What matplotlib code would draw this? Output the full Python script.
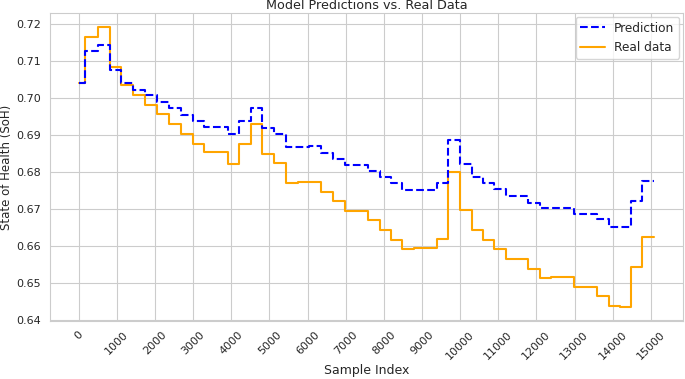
import numpy as np
import matplotlib
matplotlib.use("Agg")
import matplotlib.pyplot as plt
import seaborn as sns

# chunk boundaries (sample index)
edges = [0, 174, 496, 809, 1113, 1426, 1739, 2052, 2357, 2670,
         2990, 3294, 3596, 3908, 4210, 4512, 4815, 5118, 5429, 5740,
         6040, 6350, 6670, 6974, 7278, 7583, 7887, 8183, 8478, 8783,
         9087, 9383, 9690, 10000, 10304, 10600, 10896, 11200, 11496, 11791,
         12096, 12392, 12688, 12983, 13288, 13594, 13900, 14190, 14480, 14773,
         15087]

real = [0.7041, 0.7166, 0.7191, 0.7085, 0.7036, 0.7007, 0.6982, 0.6957, 0.6930, 0.6903,
        0.6877, 0.6853, 0.6853, 0.6822, 0.6877, 0.6931, 0.6849, 0.6824, 0.6770, 0.6774,
        0.6774, 0.6747, 0.6721, 0.6695, 0.6695, 0.6671, 0.6644, 0.6617, 0.6592, 0.6594,
        0.6594, 0.6620, 0.6801, 0.6698, 0.6644, 0.6617, 0.6593, 0.6566, 0.6565, 0.6539,
        0.6514, 0.6516, 0.6517, 0.6490, 0.6491, 0.6467, 0.6440, 0.6437, 0.6545, 0.6626]

pred = [0.7041, 0.7126, 0.7142, 0.7075, 0.7041, 0.7022, 0.7007, 0.6989, 0.6973, 0.6955,
        0.6937, 0.6922, 0.6922, 0.6903, 0.6937, 0.6972, 0.6919, 0.6904, 0.6869, 0.6869,
        0.6870, 0.6851, 0.6836, 0.6820, 0.6820, 0.6802, 0.6786, 0.6770, 0.6752, 0.6752,
        0.6752, 0.6771, 0.6888, 0.6822, 0.6788, 0.6770, 0.6754, 0.6736, 0.6736, 0.6718,
        0.6703, 0.6703, 0.6703, 0.6686, 0.6686, 0.6673, 0.6653, 0.6653, 0.6722, 0.6775]

xticks = list(range(0, 15001, 1000))

sns.set_style("whitegrid")
plt.rcParams['font.family'] = ['DejaVu Sans']

fig = plt.figure(figsize=(6.85, 3.79), dpi=100)
ax = fig.add_subplot(111)
fig.subplots_adjust(left=0.073, right=0.997, top=0.965, bottom=0.154)

x = np.array(edges)
ax.step(x, real + [real[-1]], where='post', color='orange', lw=1.5, label='Real data', zorder=2)
ax.step(x, pred + [pred[-1]], where='post', color='blue', ls='--', lw=1.5, label='Prediction', zorder=3)

ax.set_xticks(xticks)
ax.set_xticklabels([str(t) for t in xticks], rotation=45, fontsize=8)
ax.tick_params(axis='both', pad=3)
ax.tick_params(axis='y', labelsize=8)
ax.set_xlabel('Sample Index', fontsize=9, labelpad=2)
ax.set_ylabel('State of Health (SoH)', fontsize=8.5, labelpad=2.5)
ax.set_title('Model Predictions vs. Real Data', fontsize=9.2, pad=3)

h, l = ax.get_legend_handles_labels()
ax.legend(h[::-1], l[::-1], loc='upper right', fontsize=8.7, borderaxespad=0.3)

fig.savefig('out.png', dpi=100)
